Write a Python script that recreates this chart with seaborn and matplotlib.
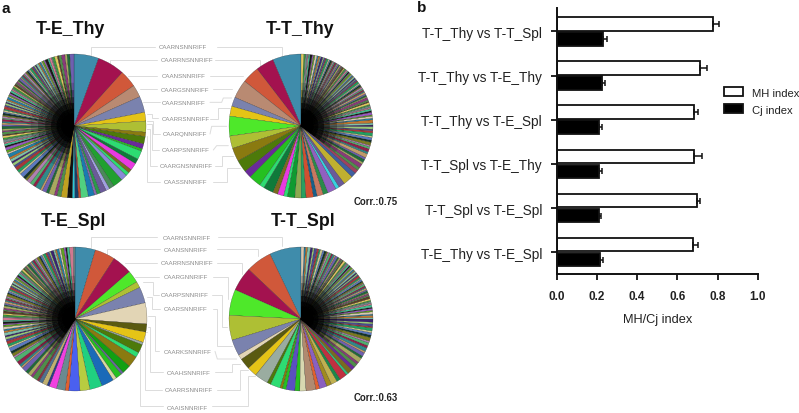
import matplotlib
matplotlib.use("Agg")
import matplotlib.pyplot as plt
import pandas as pd
import seaborn as sns

sns.set_theme(style="white")
plt.rcParams["font.family"] = ["Liberation Sans", "DejaVu Sans"]

W, H = 799, 414

# ---- panel b data ----
comparisons = ["T-T_Thy vs T-T_Spl", "T-T_Thy vs T-E_Thy", "T-T_Thy vs T-E_Spl",
               "T-T_Spl vs T-E_Thy", "T-T_Spl vs T-E_Spl", "T-E_Thy vs T-E_Spl"]
mh_index = [0.78, 0.713, 0.683, 0.685, 0.70, 0.68]
mh_err = [0.027, 0.037, 0.022, 0.036, 0.012, 0.022]
cj_index = [0.229, 0.224, 0.212, 0.21, 0.21, 0.216]
cj_err = [0.02, 0.015, 0.014, 0.015, 0.01, 0.015]

# ---- panel a data: clone shares in degrees, largest clones first ----
te_thy_big = [20, 22, 14, 10, 13, 7, 9, 3.5, 6, 4, 2, 7, 4, 6, 3, 3, 5, 8, 4, 3, 5, 3, 2, 5, 6, 2, 3, 2, 4, 5]
te_thy_tail = [3, 2, 4, 2, 3, 1.5, 4, 2, 2.5, 3, 1.5, 2, 3, 1.5, 2, 2.5, 1.5, 2, 1.2, 2, 1.5, 2.5, 1.2, 1.8, 2,
               1.2, 1.5, 1, 2, 1.2, 1.5, 1, 1.8, 1, 1.2, 2, 1, 1.4, 1, 1.6, 0.8, 1.2, 1, 1.5, 0.8, 1.2, 0.8, 2,
               1, 1.4, 0.8, 1.2, 1, 1.6, 0.8, 1, 1.2, 0.8, 1.5, 1, 0.8, 1.2, 1, 1.4, 0.8, 1.2, 0.8, 1, 1.6, 0.8,
               1.2, 1, 0.8, 1.4, 1, 1.2, 0.8, 1, 1.5, 0.8, 1.2, 1, 0.8, 1.8, 1, 1.2, 0.8, 1.4, 1, 2, 1.2, 1.6, 0.8, 1.5,
               2, 1.2, 1.8, 2.5, 1.5, 2, 3]
tt_thy_big = [23, 14.6, 14, 15, 7.5, 8, 16, 10, 11, 10, 6, 10, 4, 8, 4, 5, 3, 6, 5, 4, 6, 3, 5, 4, 7, 3, 5, 8, 4, 3]
tt_thy_tail = [3, 4, 2, 3, 2, 4, 2, 3, 2, 1.5, 3, 2, 2.5, 1.5, 3, 2, 1.5, 2.5, 1.5, 2, 3, 1.5, 2, 1.2, 2.5, 1.5,
               2, 1.2, 1.8, 1.2, 2, 1, 1.5, 2.5, 1, 1.5, 1.2, 2, 1, 1.4, 1.2, 1.8, 1, 1.5, 0.8, 1.2, 2, 1, 1.4,
               0.8, 1.2, 1.6, 0.8, 1.2, 1, 1.8, 0.8, 1.2, 1, 1.5, 0.8, 1.2, 1, 1.6, 0.8, 1, 1.4, 0.8, 1.2, 1, 0.8,
               1.5, 1, 1.2, 0.8, 1.6, 1, 1.2, 1.8, 1, 1.4, 1.2, 2, 1, 1.5, 1.2, 2, 1.4, 1.2, 2.2, 1.5, 1, 2, 1.5, 2.5]
te_spl_big = [16.5, 16.5, 16, 10, 5, 13, 17, 6.5, 8.5, 2, 7, 4, 9, 7, 2, 5, 3, 10, 10, 8, 9, 3, 7, 6, 2, 4, 3, 2]
te_spl_tail = [4, 2, 3, 2.5, 4, 1.5, 2, 3, 4, 1.5, 2.5, 2, 3, 1.5, 2, 2.5, 1.5, 2, 1.2, 2.5, 1.5, 1.2, 2, 1.5, 1, 1.8,
               1.2, 2, 1, 1.5, 1.2, 2, 1, 1.4, 1.8, 1, 1.2, 1.6, 1, 1.4, 0.8, 1.2, 2, 1, 1.4, 0.8, 1.2, 1.8,
               1, 1.4, 0.8, 1.6, 1, 1.2, 0.8, 1.5, 1, 1.2, 1.8, 0.8, 1.2, 1, 1.6, 1, 1.4, 0.8, 1.2, 2, 1, 1.4, 1.2,
               1.8, 1, 1.5, 2, 1.2, 1.6, 1, 2.2, 1.4, 1.8, 1.2, 2.5, 1.5, 1.2, 2, 1.5, 2.5, 1.5, 1.2, 2, 3, 1.5]
tt_spl_big = [25.6, 21, 19.5, 21, 20, 13, 4, 9, 8, 11, 3, 8, 2, 3, 7, 4, 5, 8, 3, 6, 4, 5, 3, 6, 2, 4, 3]
tt_spl_tail = [3, 2, 4, 2, 3, 1.5, 3, 2, 2.5, 1.5, 3, 2, 2, 1.5, 2.5, 1.2, 2, 1.5, 2.5, 1.2, 1.8, 1, 2, 1.2, 1.5,
               1, 2, 1.2, 1.6, 1, 1.4, 2, 1, 1.2, 0.8, 1.8, 1, 1.4, 0.8, 1.2, 1.6, 0.8, 1.2, 1, 1.5, 0.8, 1.2,
               1.8, 0.8, 1.2, 1, 1.6, 0.8, 1.2, 1, 1.5, 0.8, 1, 1.4, 0.8, 1.2, 1, 1.8, 0.8, 1.2, 1, 1.4, 1.2,
               2, 1, 1.5, 1.2, 2, 1.4, 1, 1.8, 1.4, 2, 1.2, 1.6, 2.2, 1.4, 1.8, 2.5, 1.5, 1.2, 2.5]

# ---- slice colours ----
te_thy_colors = ["#3f8cab", "#a3124f", "#d0583a", "#b98a72", "#7a82ae", "#e5c416", "#aebf34", "#8a7a10",
                 "#4d7a0a", "#6a2a9a", "#25c020", "#2ddc72", "#0f7a3a", "#e83ae0", "#7a6a20", "#2ddc72",
                 "#8a8ad8", "#20a030", "#4a8a5a", "#a0a0e0", "#6a5a9a", "#2a9a4a", "#8a6ab0", "#1a7ab0",
                 "#50d080", "#c05030", "#18406a", "#28c8d8", "#101010", "#c0a020"]
tt_thy_colors = ["#3f8cab", "#a3124f", "#d0583a", "#b98a72", "#7a82ae", "#e5c416", "#4ee82a", "#aebf34",
                 "#8a7a10", "#4d7a0a", "#6a2a9a", "#25c020", "#2ddc72", "#0f7a3a", "#7a6a20", "#e83ae0",
                 "#2ddc72", "#0f9a30", "#8aaa50", "#28a060", "#d05030", "#18608a", "#c87860", "#2a8a4a",
                 "#9060c0", "#38d0e0", "#6a5a9a", "#c0b030", "#4060a0", "#a04060"]
te_spl_colors = ["#3f8cab", "#d0583a", "#a3124f", "#4ee82a", "#aebf34", "#7a82ae", "#e2d5b5", "#5a5a10",
                 "#e5c416", "#9aaca0", "#4d7a0a", "#2ddc72", "#8a7a10", "#12a012", "#6a6aa0", "#25c020",
                 "#d8d8a0", "#1a6ab8", "#20d080", "#b8cc40", "#4a60f0", "#e06030", "#6a8a90", "#f040e0",
                 "#2a3a8a", "#c0b070", "#507090", "#883040"]
tt_spl_colors = ["#3f8cab", "#d0583a", "#a3124f", "#4ee82a", "#aebf34", "#7a82ae", "#e2d5b5", "#5a5a10",
                 "#e5c416", "#9aaca0", "#4d7a0a", "#2ddc72", "#8a7a10", "#25c020", "#5a50c0", "#25c020",
                 "#d8d8b0", "#b08a70", "#e06030", "#8a60c0", "#a08a20", "#c0b050", "#1a8a4a", "#c03040",
                 "#30c080", "#7a6a20", "#6a2a9a"]
tail_colors = ["#4f8f4a", "#8a3a7a", "#a8a860", "#1f6a3a", "#6f5fb0", "#c09a6a", "#2f8a8a", "#8f2048",
               "#50b070", "#b080b0", "#7a7a20", "#14352a", "#5a78c0", "#c8c890", "#20a060", "#a83838",
               "#4a4a90", "#98c878", "#3a2470", "#80c0a8", "#c07830", "#2080a8", "#d8c8b0", "#60a020",
               "#9a58c0", "#1a1a1a", "#40c090", "#d07890", "#708888", "#38a038", "#e0c860", "#5a4028"]

# ---- labels and connector routes (pixel positions, zoomed reference units) ----
top_labels = ["CAARNSNNRIFF", "CAARRNSNNRIFF", "CAANSNNRIFF", "CAARGSNNRIFF", "CAARSNNRIFF",
              "CAARRSNNRIFF", "CAARQNNRIFF", "CAARPSNNRIFF", "CAARGNSNNRIFF", "CAASSNNRIFF"]
top_label_xy = [(550, 143), (560, 183), (552, 231), (555, 270), (552, 310),
                (557, 358), (555, 405), (558, 453), (558, 501), (557, 549)]
top_routes = [[(272, 170), (272, 143), (465, 143)], [(650, 143), (845, 143), (845, 170)],
              [(330, 195), (330, 183), (470, 183)], [(645, 183), (780, 183), (780, 200)],
              [(385, 231), (470, 231)], [(630, 231), (730, 231)],
              [(420, 270), (470, 270)], [(640, 270), (697, 270)],
              [(430, 310), (480, 310)], [(630, 310), (665, 310), (670, 297), (695, 297)],
              [(440, 345), (455, 345), (455, 358), (475, 358)], [(630, 360), (653, 360), (653, 328), (690, 328)],
              [(440, 365), (460, 365), (460, 405), (480, 405)], [(630, 405), (635, 382), (680, 382)],
              [(440, 375), (455, 375), (455, 453), (478, 453)], [(640, 453), (650, 440), (685, 440)],
              [(440, 390), (450, 390), (450, 501), (470, 501)], [(645, 501), (665, 501), (665, 470), (700, 470)],
              [(440, 410), (440, 549), (480, 549)], [(640, 549), (680, 549), (680, 507), (720, 507)]]
bot_labels = ["CAARNSNNRIFF", "CAANSNNRIFF", "CAARRNSNNRIFF", "CAARGNNRIFF", "CAARPSNNRIFF",
              "CAARSNNRIFF", "CAARKSNNRIFF", "CAAHSNNRIFF", "CAARRSNNRIFF", "CAAISNNRIFF"]
bot_label_xy = [(560, 100), (558, 136), (560, 177), (558, 219), (553, 273),
                (558, 315), (562, 442), (567, 505), (567, 558), (562, 612)]
bot_routes = [[(272, 130), (272, 100), (470, 100)], [(655, 100), (845, 100), (845, 125)],
              [(320, 150), (320, 136), (480, 136)], [(650, 136), (775, 136), (775, 155)],
              [(375, 177), (470, 177)], [(650, 177), (725, 177), (725, 210)],
              [(405, 219), (478, 219)], [(640, 219), (685, 219), (685, 285)],
              [(430, 235), (460, 235), (460, 273), (478, 273)], [(635, 273), (667, 273), (667, 368), (680, 368)],
              [(440, 280), (455, 280), (455, 315), (480, 315)], [(640, 315), (652, 315), (652, 427), (695, 427)],
              [(445, 337), (465, 337), (465, 442), (478, 442)], [(645, 442), (652, 465), (710, 465)],
              [(445, 370), (450, 370), (450, 505), (490, 505)], [(645, 505), (695, 505), (695, 480), (720, 480)],
              [(440, 385), (435, 385), (435, 558), (485, 558)], [(650, 558), (720, 558), (720, 497), (745, 497)],
              [(420, 400), (420, 607), (490, 607)], [(635, 607), (745, 607), (745, 515), (765, 515)]]

fig = plt.figure(figsize=(W / 100, H / 100), dpi=100, facecolor="white")


def px_axes(x0, y0, x1, y1, **kw):
    return fig.add_axes([x0 / W, 1 - y1 / H, (x1 - x0) / W, (y1 - y0) / H], **kw)


# overlay in pixel coordinates for connectors and text
ov = px_axes(0, 0, W, H)
ov.set_xlim(0, W)
ov.set_ylim(H, 0)
ov.axis("off")


def draw_labels(labels, xy, routes, yoff):
    for route in routes:
        ov.plot([p[0] / 3 for p in route], [p[1] / 3 + yoff for p in route],
                color="#dcdcdc", lw=0.7, solid_joinstyle="miter", zorder=1)
    for lab, (x, y) in zip(labels, xy):
        ov.text(x / 3, y / 3 + yoff, lab, ha="center", va="center", fontsize=4.4, color="#8c8c8c")


draw_labels(top_labels, top_label_xy, top_routes, 0)
draw_labels(bot_labels, bot_label_xy, bot_routes, 205)


def draw_pie(cx, cy, big, tail, colors, ccw):
    r = 72
    ax = px_axes(cx - r, cy - r, cx + r, cy + r)
    ax.patch.set_alpha(0)
    # the big list is in degrees; the tail shares the rest of the circle
    rest = (360 - sum(big)) / sum(tail)
    vals = big + [v * rest for v in tail]
    cols = colors + [tail_colors[i % len(tail_colors)] for i in range(len(tail))]
    ax.pie(vals, colors=cols, startangle=90, counterclock=ccw, radius=1.0,
           wedgeprops=dict(edgecolor="#101010", linewidth=0.14))
    # dark hub where the thin tail wedges converge
    for radius, alpha in [(0.6, 0.15), (0.5, 0.25), (0.4, 0.4), (0.32, 0.6), (0.24, 0.85), (0.17, 1.0)]:
        hub = ["none"] * len(big) + [(0, 0, 0, alpha)] * len(tail)
        ax.pie(vals, colors=hub, startangle=90, counterclock=ccw, radius=radius,
               wedgeprops=dict(linewidth=0))
    ax.set_xlim(-1.0, 1.0)
    ax.set_ylim(-1.0, 1.0)


draw_pie(74, 127, te_thy_big, te_thy_tail, te_thy_colors, False)
draw_pie(301, 127, tt_thy_big, tt_thy_tail, tt_thy_colors, True)
draw_pie(75, 320, te_spl_big, te_spl_tail, te_spl_colors, False)
draw_pie(301, 320, tt_spl_big, tt_spl_tail, tt_spl_colors, True)

titles = [("T-E_Thy", 70, 29), ("T-T_Thy", 300, 29), ("T-E_Spl", 73, 222), ("T-T_Spl", 303, 222)]
for t, x, y in titles:
    ov.text(x, y, t, ha="center", va="center", fontsize=12.8, fontweight="bold", color="#111111")
ov.text(6, 9, "a", ha="center", va="center", fontsize=11, fontweight="bold", color="#111111")
ov.text(375.5, 202, "Corr.:0.75", ha="center", va="center", fontsize=6.9, fontweight="bold", color="#222222")
ov.text(375.5, 398, "Corr.:0.63", ha="center", va="center", fontsize=6.9, fontweight="bold", color="#222222")
ov.text(422, 8, "b", ha="center", va="center", fontsize=11, fontweight="bold", color="#111111")

# ---- panel b ----
df = pd.DataFrame({
    "comparison": comparisons * 2,
    "value": mh_index + cj_index,
    "index": ["MH index"] * 6 + ["Cj index"] * 6,
})
ax = px_axes(556.7, 9, 757.7, 275.3)
ax.patch.set_alpha(0)
sns.barplot(data=df, y="comparison", x="value", hue="index", hue_order=["MH index", "Cj index"],
            order=comparisons, palette={"MH index": "white", "Cj index": "black"},
            width=0.68, gap=0.1, errorbar=None, edgecolor="#111111", linewidth=1.3,
            saturation=1, ax=ax)
for cont, vals, errs in zip(ax.containers, [mh_index, cj_index], [mh_err, cj_err]):
    ys = [b.get_y() + b.get_height() / 2 for b in cont]
    ax.errorbar(vals, ys, xerr=[[0] * 6, errs], fmt="none", ecolor="#111111",
                elinewidth=1.1, capsize=2.2, capthick=1.1, zorder=1)
ax.set_xlim(0, 1.0)
ax.set_ylim(5.5, -0.53)
ax.set_xticks([0, 0.2, 0.4, 0.6, 0.8, 1.0])
ax.set_xticklabels(["0.0", "0.2", "0.4", "0.6", "0.8", "1.0"], fontsize=8.5, fontweight="bold", color="#222222")
ax.set_yticks(range(6))
ax.set_yticklabels(comparisons, fontsize=9.8, color="#222222")
ax.set_xlabel("MH/Cj index", fontsize=9.2, color="#222222", labelpad=8)
ax.set_ylabel("")
ax.tick_params(axis="x", length=4.5, width=1.3, color="#111111", bottom=True, pad=7)
ax.tick_params(axis="y", length=4.5, width=1.3, color="#111111", left=True, pad=6)
for s in ["top", "right"]:
    ax.spines[s].set_visible(False)
for s in ["left", "bottom"]:
    ax.spines[s].set_linewidth(1.4)
    ax.spines[s].set_color("#111111")
handles, labs = ax.get_legend_handles_labels()
ax.legend(handles, labs, loc="center left", bbox_to_anchor=((724 - 556.7) / 201, 1 - (102 - 9) / 266.3),
          frameon=False, fontsize=8.1, handlelength=1.65, handleheight=0.8, labelspacing=0.6,
          handletextpad=0.8, borderpad=0, borderaxespad=0, labelcolor="#222222")

fig.savefig("out.png", dpi=100, facecolor="white")
